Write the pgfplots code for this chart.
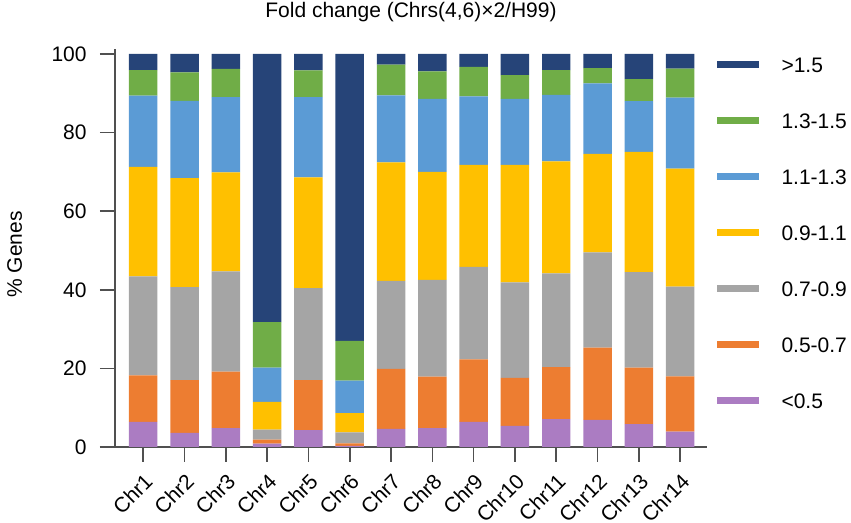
\documentclass[border=0pt]{standalone}
\usepackage{fontspec}
\setmainfont{Liberation Sans}
\usepackage{pgfplots}
\usepackage{pgfplotstable}
\pgfplotsset{compat=1.18}
\definecolor{cnavy}{HTML}{264478}
\definecolor{cgreen}{HTML}{70AD47}
\definecolor{cblue}{HTML}{5B9BD5}
\definecolor{cyellow}{HTML}{FFC000}
\definecolor{cgray}{HTML}{A5A5A5}
\definecolor{corange}{HTML}{ED7D31}
\definecolor{cpurple}{HTML}{AB7CC2}
\definecolor{axgray}{HTML}{505050}
\pgfplotsset{mylegend/.style={legend image code/.code={\fill[##1] (0pt,-1.75pt) rectangle (21pt,1.75pt);}}}
\pgfplotstableread{
x a b c d e f g
0 6.4 11.8 25.2 27.9 18.1 6.5 4.1
1 3.6 13.4 23.7 27.7 19.7 7.2 4.7
2 4.8 14.4 25.5 25.2 19.1 7.2 3.8
3 0.85 1.05 2.5 7.1 8.7 11.6 68.2
4 4.3 12.7 23.4 28.2 20.4 6.8 4.2
5 0.3 0.6 2.8 4.9 8.3 10.1 73.0
6 4.6 15.3 22.4 30.1 17.1 7.8 2.7
7 4.8 13.1 24.6 27.5 18.6 7.0 4.4
8 6.4 15.9 23.5 26.0 17.4 7.5 3.3
9 5.4 12.2 24.3 29.9 16.8 6.0 5.4
10 7.1 13.2 23.9 28.5 16.9 6.3 4.1
11 6.9 18.4 24.2 25.1 17.9 3.9 3.6
12 5.8 14.4 24.3 30.6 12.9 5.6 6.4
13 3.9 14.1 22.8 30.0 18.1 7.4 3.7
}\data
\begin{document}
\begin{tikzpicture}
\useasboundingbox (0,0) rectangle (425.5pt,261.5pt);
\begin{axis}[
  at={(57.5pt,38pt)}, anchor=south west,
  scale only axis, width=296pt, height=196.5pt,
  font=\fontsize{10.5}{12}\selectfont,
  /pgf/number format/assume math mode=true,
  xmin=-0.683, xmax=13.65, ymin=0, ymax=100,
  ybar stacked, bar width=0.69,
  separate axis lines,
  axis x line*=bottom, axis y line*=left,
  axis line style={axgray, line width=0.8pt, -},
  x axis line style={shorten <=-7.5pt},
  y axis line style={shorten >=-2.5pt},
  xtick={0,...,13},
  xticklabels={Chr1,Chr2,Chr3,Chr4,Chr5,Chr6,Chr7,Chr8,Chr9,Chr10,Chr11,Chr12,Chr13,Chr14},
  ytick={0,20,40,60,80,100},
  tick align=outside, major tick length=7.5pt,
  tick style={axgray, line width=0.8pt},
  xticklabel style={rotate=45, anchor=north east, inner sep=0pt},
  xticklabel shift=5pt,
  yticklabel style={inner sep=0pt},
  yticklabel shift=6.5pt,
  title={Fold change (Chrs(4,6)×2/H99)},
  title style={at={(axis description cs:0.5,1)}, anchor=base, yshift=12.35pt, inner sep=0pt},
  ylabel={\% Genes},
  ylabel style={at={(axis description cs:-0.1571,0.49)}, anchor=base},
  reverse legend,
  legend cell align=left,
  legend style={at={(axis description cs:1.0169,0.9915)}, anchor=north west, draw=none, fill=none,
    inner sep=0pt, outer sep=0pt, row sep=20.5pt, column sep=11.25pt,
    nodes={inner sep=0pt, text height=7.5pt, text depth=0pt}},
]
\addplot[fill=cpurple, draw=none, mylegend] table[x=x, y=a] {\data};
\addplot[fill=corange, draw=none, mylegend] table[x=x, y=b] {\data};
\addplot[fill=cgray, draw=none, mylegend] table[x=x, y=c] {\data};
\addplot[fill=cyellow, draw=none, mylegend] table[x=x, y=d] {\data};
\addplot[fill=cblue, draw=none, mylegend] table[x=x, y=e] {\data};
\addplot[fill=cgreen, draw=none, mylegend] table[x=x, y=f] {\data};
\addplot[fill=cnavy, draw=none, mylegend] table[x=x, y=g] {\data};
\legend{{<0.5},{0.5-0.7},{0.7-0.9},{0.9-1.1},{1.1-1.3},{1.3-1.5},{>1.5}}
\end{axis}
\end{tikzpicture}
\end{document}
